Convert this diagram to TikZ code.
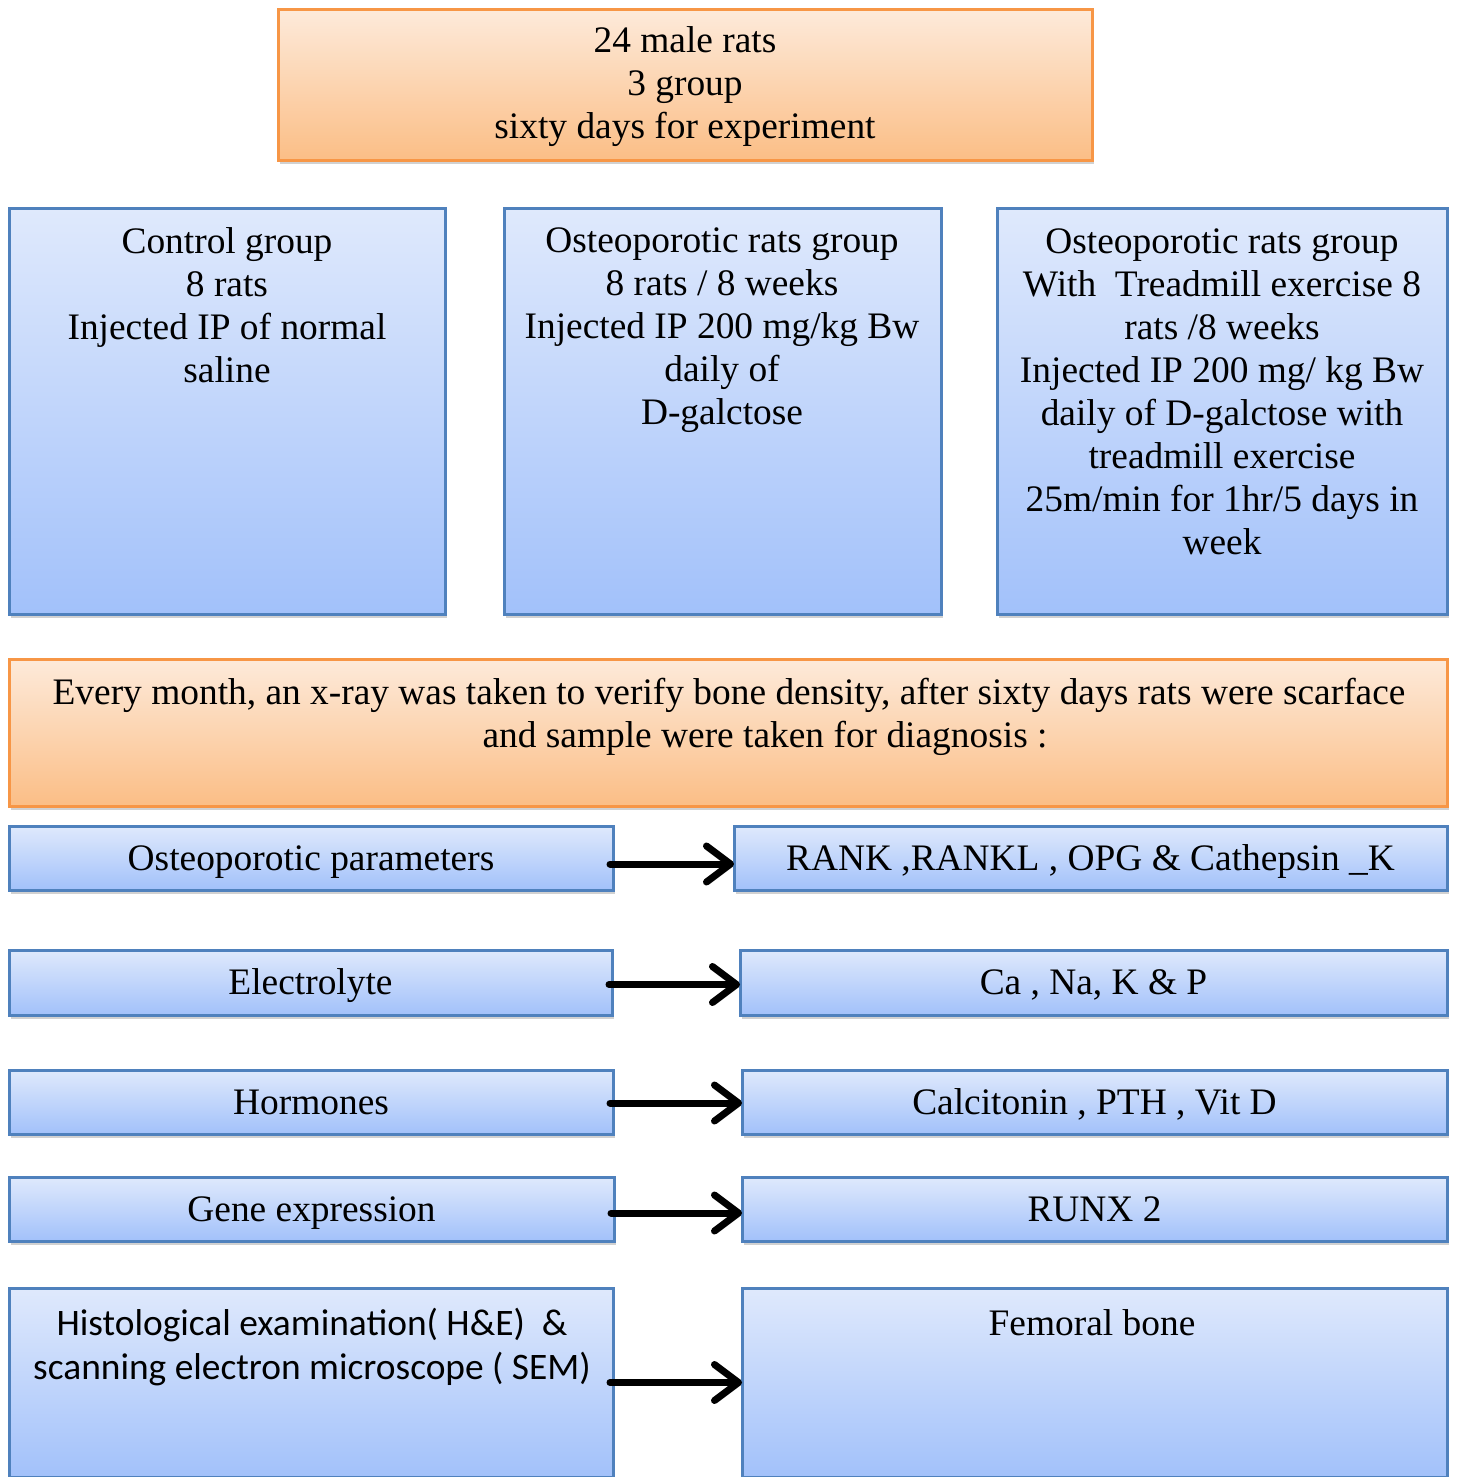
\documentclass[tikz,border=0pt]{standalone}
\usepackage{fontspec}
\setmainfont{Liberation Serif}
\newfontfamily\calib{Carlito}
\usetikzlibrary{arrows.meta,shadows}
\definecolor{bluebd}{RGB}{79,129,189}
\definecolor{bluetop}{RGB}{223,233,252}
\definecolor{bluebot}{RGB}{162,193,250}
\definecolor{orgbd}{RGB}{247,150,70}
\definecolor{orgtop}{RGB}{253,234,218}
\definecolor{orgbot}{RGB}{251,190,134}
\begin{document}
\begin{tikzpicture}[x=1pt,y=-1pt,
 box/.style={rectangle, draw, line width=3pt, anchor=north west, inner sep=0pt, outer sep=0pt,
   drop shadow={shadow xshift=2pt,shadow yshift=-4pt,fill=black,opacity=0.18}},
 bluebox/.style={box, draw=bluebd, top color=bluetop, bottom color=bluebot, font=\fontsize{37.4}{43}\selectfont},
 rowbox/.style={bluebox, minimum height=64pt, text height=26pt, text depth=2pt},
 orangebox/.style={box, draw=orgbd, top color=orgtop, bottom color=orgbot},
 txt/.style={font=\fontsize{37.4}{43}\selectfont, align=center, inner sep=0pt, anchor=base},
 arr/.style={line width=7pt, line cap=round, -{Straight Barb[length=24pt,width=36pt,line cap=round,line join=round]}}]
\useasboundingbox (0,0) rectangle (1456,1477);
\clip (0,0) rectangle (1456,1477);

% top box (text anchored at baseline of its last line)
\node[orangebox, minimum width=814pt, minimum height=150pt] (top) at (278,10) {};
\node[txt] (toptxt) at (685,139) {24 male rats\\3 group\\sixty days for experiment};

% group boxes
\node[bluebox, minimum width=436pt, minimum height=406pt] (g1) at (9,208) {};
\node[txt] (g1txt) at (227,382) {Control group\\8 rats\\Injected IP of normal\\saline};
\node[bluebox, minimum width=437pt, minimum height=406pt] (g2) at (504,208) {};
\node[txt] (g2txt) at (722,424) {Osteoporotic rats group\\8 rats / 8 weeks\\Injected IP 200 mg/kg Bw\\daily of\\D-galctose};
\node[bluebox, minimum width=450pt, minimum height=406pt] (g3) at (997,208) {};
\node[txt] (g3txt) at (1222,554) {Osteoporotic rats group\\With\ \ Treadmill exercise 8\\rats /8 weeks\\Injected IP 200 mg/ kg Bw\\daily of D-galctose with\\treadmill exercise\\25m/min for 1hr/5 days in\\week};

% big orange box
\node[orangebox, minimum width=1438pt, minimum height=147pt] (big) at (9,659) {};
\node[txt] (bigtxt) at (729,747) {Every month, an x-ray was taken to verify bone density, after sixty days rats were scarface\\\hspace*{72pt}and sample were taken for diagnosis :};

% rows
\node[rowbox, minimum width=604pt] (l1) at (9,826) {Osteoporotic parameters};
\node[rowbox, minimum width=713pt] (r1) at (734,826) {RANK ,RANKL , OPG \& Cathepsin \_K};
\node[rowbox, minimum width=603pt, minimum height=65pt] (l2) at (9,950) {Electrolyte};
\node[rowbox, minimum width=707pt, minimum height=65pt] (r2) at (740,950) {Ca , Na, K \& P};
\node[rowbox, minimum width=604pt] (l3) at (9,1070) {Hormones};
\node[rowbox, minimum width=705pt] (r3) at (742,1070) {Calcitonin , PTH , Vit D};
\node[rowbox, minimum width=605pt] (l4) at (9,1177) {Gene expression};
\node[rowbox, minimum width=705pt] (r4) at (742,1177) {RUNX 2};
\node[bluebox, minimum width=604pt, minimum height=189pt] (l5) at (9,1288) {};
\node[txt, font=\calib\fontsize{37.4}{44}\selectfont] (l5txt) at (312,1379) {Histological examination( H\&E)\ \ \&\\scanning electron microscope ( SEM)};
\node[bluebox, minimum width=705pt, minimum height=189pt] (r5) at (742,1288) {};
\node[txt] (r5txt) at (1092,1335) {Femoral bone};

% arrows
\draw[arr] ([xshift=-3pt,yshift=-6pt]l1.east) -- ([yshift=-6pt]r1.west);
\draw[arr] ([xshift=-3pt,yshift=-2pt]l2.east) -- ([yshift=-2pt]r2.west);
\draw[arr] ([xshift=-3pt,yshift=-1pt]l3.east) -- ([yshift=-1pt]r3.west);
\draw[arr] ([xshift=-3pt,yshift=-4pt]l4.east) -- ([yshift=-4pt]r4.west);
\draw[arr] ([xshift=-3pt]l5.east) -- (r5.west);
\end{tikzpicture}
\end{document}
